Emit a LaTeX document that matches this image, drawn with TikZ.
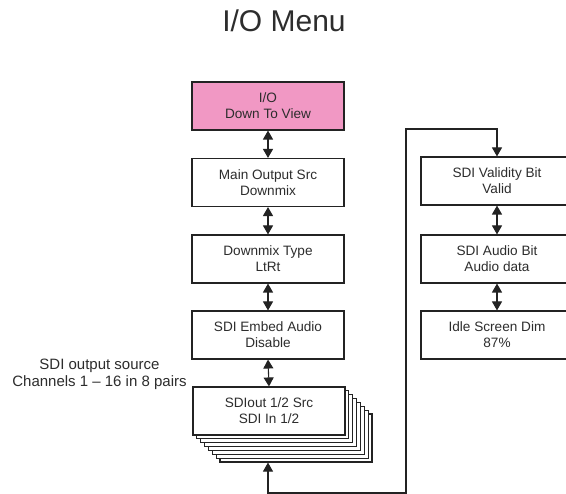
\documentclass[tikz,border=0pt]{standalone}
\usepackage{fontspec}
\setmainfont{Liberation Sans}
\usetikzlibrary{arrows.meta}
\definecolor{linecol}{RGB}{35,35,35}
\definecolor{txtcol}{RGB}{45,45,45}
\definecolor{pinkfill}{RGB}{241,152,196}
\tikzset{
  box/.style={draw=linecol, line width=1.1pt, fill=white, minimum width=152pt, minimum height=48pt,
    inner sep=0pt, align=center, text=txtcol, font=\fontsize{13.6}{15.8}\selectfont},
  stackbox/.style={draw=linecol, line width=1.1pt, fill=white, minimum width=152pt, minimum height=48pt, inner sep=0pt},
  dual/.style={draw=linecol, line width=1.1pt, {Triangle[width=10pt,length=9pt]}-{Triangle[width=10pt,length=9pt]}},
  lbl/.style={text=txtcol, align=center, inner sep=0pt}
}
\begin{document}
\begin{tikzpicture}[x=1pt,y=-1pt]
\clip (0,0) rectangle (566,494);
\fill[white] (0,0) rectangle (566,494);
% title
\node[lbl, font=\fontsize{30}{32}\selectfont, anchor=base] (title) at (284,32) {I/O Menu};
% left column
\node[box, fill=pinkfill] (b1) at (268,106) {I/O\\Down To View};
\node[box] (b2) at (268,182.5) {Main Output Src\\Downmix};
\node[box] (b3) at (268,259) {Downmix Type\\LtRt};
\node[box] (b4) at (268,335) {SDI Embed Audio\\Disable};
% stack behind SDIout
\foreach \k in {7,6,...,1} {
  \node[stackbox] (s\k) at (269+3.86*\k, 411+3.86*\k) {};
}
\node[box] (b5) at (269,411) {SDIout 1/2 Src\\SDI In 1/2};
% right column
\node[box] (r1) at (497,181) {SDI Validity Bit\\Valid};
\node[box] (r2) at (497,259) {SDI Audio Bit\\Audio data};
\node[box] (r3) at (497,335) {Idle Screen Dim\\87\%};
% side label
\node[lbl, font=\fontsize{15}{17}\selectfont, anchor=base] (side) at (99.5,387) {SDI output source\\Channels 1 -- 16 in 8 pairs};
% connectors
\draw[dual] (b1.south) -- (b2.north);
\draw[dual] (b2.south) -- (b3.north);
\draw[dual] (b3.south) -- (b4.north);
\draw[dual] (b4.south) -- (b5.north);
\draw[dual] (r1.south) -- (r2.north);
\draw[dual] (r2.south) -- (r3.north);
\coordinate (tA) at (406,129);
\coordinate (tB) at (406,493);
\draw[dual] (r1.north) |- (tA) -- (tB) -| (s7.south -| b4.south);
\end{tikzpicture}
\end{document}
